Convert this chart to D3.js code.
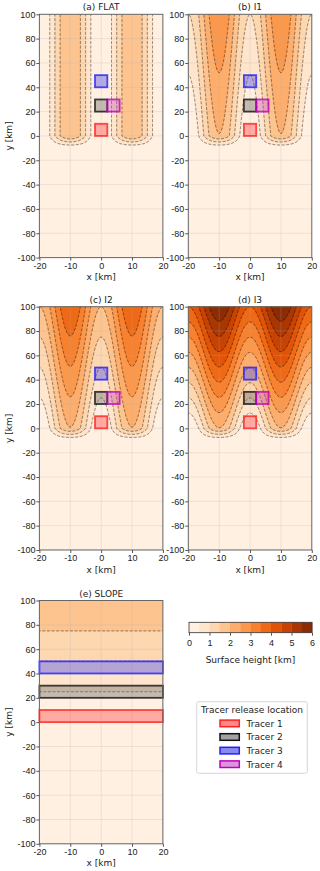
<!DOCTYPE html>
<html>
<head>
<meta charset="utf-8">
<title>Tracer release over ridges</title>
<script src="https://d3js.org/d3.v7.min.js"></script>
<style>
  body { margin: 0; background: #fff; }
  svg { font-family: "DejaVu Sans", sans-serif; font-size: 9px; }
  .tick text { font-size: 9px; fill: #222; }
  .tick line { stroke: #555; }
  .domain { display: none; }
</style>
</head>
<body>
<div id="chart"></div>
<script>
// panels: name, northward incline of the plain (km of height per km of y), ridge crest height
var panelTitles = ["(a) FLAT", "(b) I1", "(c) I2", "(d) I3", "(e) SLOPE"];
var panelSlopes = [0, 0.01, 0.02, 0.04, 0.02];
var ridgeHeights = [1.98, 1.98, 1.98, 1.98, 0];
var ridgeCenters = [-10, 10];     // km
var ridgeHalfWidth = 10;          // km, crest to foot
var ridgeTaper = 10;              // km, ridges die out south of y=0 over this distance

// contour levels / colour bands (km)
var levels = [0, 0.5, 1, 1.5, 2, 2.5, 3, 3.5, 4, 4.5, 5, 5.5, 6];
var lineLevels = [0.5, 1, 1.5, 2, 2.5, 3, 3.5, 4, 4.5, 5, 5.5];

// ticks
var xTicks = [-20, -10, 0, 10, 20];
var yTicks = [-100, -80, -60, -40, -20, 0, 20, 40, 60, 80, 100];
var cbarTicks = [0, 1, 2, 3, 4, 5, 6];

// tracer release boxes (km)
var tracerNames = ["Tracer 1", "Tracer 2", "Tracer 3", "Tracer 4"];
var tracerX = [[-2, 2], [-2, 2], [-2, 2], [2, 6]];
var tracerY = [[0, 10], [20, 30], [40, 50], [20, 30]];
var slopeTracerX = [-20, 20];     // in the SLOPE run tracers 1-3 cover the full width
var tracerEdge = ["#ff2020", "#111111", "#2020ff", "#c000c0"];
var tracerFill = ["#ff2a2a", "#555555", "#2a2ae0", "#c040c0"];

var svg = d3.select("#chart").append("svg")
  .attr("width", 320).attr("height", 871);

var pw = 123.5, ph = 243.3;
var colX = [39.4, 188.3];
var rowY = [14.3, 306.7, 600.5];
var pos = [[0, 0], [1, 0], [0, 1], [1, 1], [0, 2]];

// grid a bit larger than the plotted box so edges of the contour polygons fall outside
var gx0 = -21, gx1 = 21, gy0 = -101, gy1 = 101, dx = 0.25, dy = 0.5;
var nx = Math.round((gx1 - gx0) / dx), ny = Math.round((gy1 - gy0) / dy);

function height(p, x, y) {
  var r = 0;
  ridgeCenters.forEach(function(c) {
    var d = Math.abs(x - c);
    if (d < ridgeHalfWidth) r += Math.pow(Math.cos(Math.PI * d / (2 * ridgeHalfWidth)), 2);
  });
  var taper = Math.max(0, Math.min(1, 1 + y / ridgeTaper));
  return panelSlopes[p] * Math.max(y, 0) + ridgeHeights[p] * r * taper;
}

function bandColor(i) { return d3.interpolateOranges((i + 0.5) / 12); }

panelTitles.forEach(function(title, p) {
  var left = colX[pos[p][0]], top = rowY[pos[p][1]];
  var xs = d3.scaleLinear().domain([-20, 20]).range([left, left + pw]);
  var ys = d3.scaleLinear().domain([-100, 100]).range([top + ph, top]);

  var values = new Array(nx * ny);
  for (var j = 0; j < ny; j++) {
    for (var i = 0; i < nx; i++) {
      values[j * nx + i] = height(p, gx0 + (i + 0.5) * dx, gy0 + (j + 0.5) * dy);
    }
  }
  var path = d3.geoPath(d3.geoTransform({
    point: function(cx, cy) { this.stream.point(xs(gx0 + cx * dx), ys(gy0 + cy * dy)); }
  }));

  svg.append("clipPath").attr("id", "clip" + p)
    .append("rect").attr("x", left).attr("y", top).attr("width", pw).attr("height", ph);
  var g = svg.append("g").attr("clip-path", "url(#clip" + p + ")");

  var fills = d3.contours().size([nx, ny]).thresholds(levels.slice(0, 12))(values);
  g.selectAll("path.band").data(fills).enter().append("path")
    .attr("class", "band")
    .attr("d", path)
    .attr("fill", function(d, i) { return bandColor(i); })
    .attr("stroke", function(d, i) { return bandColor(i); })
    .attr("stroke-width", 0.3);

  // faint grid
  g.selectAll("line.gx").data(xTicks).enter().append("line")
    .attr("x1", xs).attr("x2", xs).attr("y1", top).attr("y2", top + ph)
    .attr("stroke", "#b0b0b0").attr("stroke-opacity", 0.3).attr("stroke-width", 0.8);
  g.selectAll("line.gy").data(yTicks).enter().append("line")
    .attr("y1", ys).attr("y2", ys).attr("x1", left).attr("x2", left + pw)
    .attr("stroke", "#b0b0b0").attr("stroke-opacity", 0.3).attr("stroke-width", 0.8);

  var lines = d3.contours().size([nx, ny]).thresholds(lineLevels)(values);
  g.selectAll("path.line").data(lines).enter().append("path")
    .attr("d", path)
    .attr("fill", "none")
    .attr("stroke", "#000")
    .attr("stroke-opacity", 0.55)
    .attr("stroke-width", 0.8)
    .attr("stroke-dasharray", "3,1.6");

  // tracer boxes
  var boxes = tracerNames.map(function(n, k) { return k; });
  if (p === 4) boxes = [0, 1, 2];
  svg.selectAll(null).data(boxes).enter().append("rect")
    .attr("x", function(k) { return xs(p === 4 ? slopeTracerX[0] : tracerX[k][0]); })
    .attr("width", function(k) {
      var r = p === 4 ? slopeTracerX : tracerX[k];
      return xs(r[1]) - xs(r[0]);
    })
    .attr("y", function(k) { return ys(tracerY[k][1]); })
    .attr("height", function(k) { return ys(tracerY[k][0]) - ys(tracerY[k][1]); })
    .attr("fill", function(k) { return tracerFill[k]; })
    .attr("fill-opacity", 0.35)
    .attr("stroke", function(k) { return tracerEdge[k]; })
    .attr("stroke-opacity", 0.8)
    .attr("stroke-width", 1.8);

  // frame and axes
  svg.append("rect").attr("x", left).attr("y", top).attr("width", pw).attr("height", ph)
    .attr("fill", "none").attr("stroke", "#666").attr("stroke-width", 1);

  svg.append("g").attr("transform", "translate(0," + (top + ph) + ")")
    .call(d3.axisBottom(xs).tickValues(xTicks).tickSize(3).tickPadding(2)
      .tickFormat(function(d) { return String(d); }));
  svg.append("g").attr("transform", "translate(" + left + ",0)")
    .call(d3.axisLeft(ys).tickValues(yTicks).tickSize(3).tickPadding(1)
      .tickFormat(function(d) { return String(d); }));

  svg.append("text").attr("x", left + pw / 2).attr("y", top - 4)
    .attr("text-anchor", "middle").attr("fill", "#222").text(title);
  svg.append("text").attr("x", left + pw / 2).attr("y", top + ph + 22.5)
    .attr("text-anchor", "middle").attr("fill", "#222").text("x [km]");
  if (pos[p][0] === 0) {
    svg.append("text")
      .attr("transform", "translate(12," + (top + ph / 2) + ") rotate(-90)")
      .attr("text-anchor", "middle").attr("fill", "#222").text("y [km]");
  }
});

// colour bar
var cb = { x: 189, y: 622.3, w: 123, h: 10.4 };
var cs = d3.scaleLinear().domain([0, 6]).range([cb.x, cb.x + cb.w]);
svg.selectAll("rect.cb").data(levels.slice(0, 12)).enter().append("rect")
  .attr("x", function(d) { return cs(d); })
  .attr("y", cb.y)
  .attr("width", cs(0.5) - cs(0) + 0.3)
  .attr("height", cb.h)
  .attr("fill", function(d, i) { return bandColor(i); });
svg.append("rect").attr("x", cb.x).attr("y", cb.y).attr("width", cb.w).attr("height", cb.h)
  .attr("fill", "none").attr("stroke", "#333").attr("stroke-width", 0.8);
svg.append("g").attr("transform", "translate(0," + (cb.y + cb.h) + ")")
  .call(d3.axisBottom(cs).tickValues(cbarTicks).tickSize(3).tickPadding(4)
    .tickFormat(function(d) { return String(d); }));
svg.append("text").attr("x", cb.x + cb.w / 2).attr("y", 662.5)
  .attr("text-anchor", "middle").attr("fill", "#222").text("Surface height [km]");

// legend
var lg = svg.append("g");
lg.append("rect").attr("x", 196.7).attr("y", 701.7).attr("width", 110.6).attr("height", 71.6)
  .attr("rx", 2).attr("fill", "#fff").attr("stroke", "#ccc").attr("stroke-width", 0.8);
lg.append("text").attr("x", 252).attr("y", 712.5).attr("text-anchor", "middle")
  .attr("fill", "#222").text("Tracer release location");
var items = lg.selectAll("g.item").data(tracerNames).enter().append("g")
  .attr("transform", function(d, i) { return "translate(0," + (723.4 + i * 13.6) + ")"; });
items.append("rect").attr("x", 220).attr("y", -3.3).attr("width", 19.3).attr("height", 6.6)
  .attr("fill", function(d, i) { return tracerFill[i]; })
  .attr("fill-opacity", 0.55)
  .attr("stroke", function(d, i) { return tracerEdge[i]; })
  .attr("stroke-width", 1.5);
items.append("text").attr("x", 246.5).attr("y", 3.3).attr("fill", "#222").text(function(d) { return d; });
</script>
</body>
</html>
